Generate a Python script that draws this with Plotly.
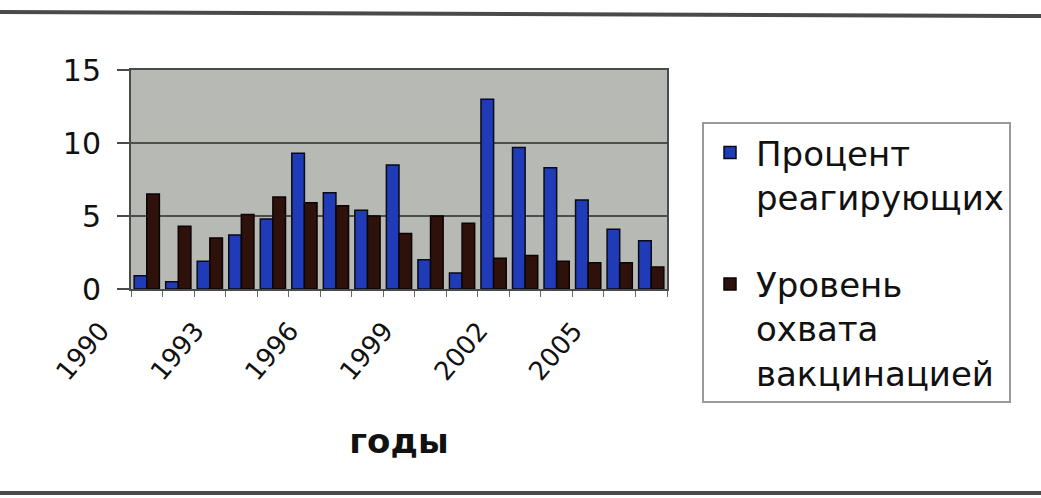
import plotly.graph_objects as go

# ---- data ----
years = list(range(1990, 2007))
percent_reacting = [0.9, 0.5, 1.9, 3.7, 4.8, 9.3, 6.6, 5.4, 8.5, 2.0,
                    1.1, 13.0, 9.7, 8.3, 6.1, 4.1, 3.3]
vaccination_coverage = [6.5, 4.3, 3.5, 5.1, 6.3, 5.9, 5.7, 5.0, 3.8, 5.0,
                        4.5, 2.1, 2.3, 1.9, 1.8, 1.8, 1.5]
tick_years = [1990, 1993, 1996, 1999, 2002, 2005]
tick_labels = [str(y) for y in tick_years]
series_names = ["Процент<br>реагирующих", "Уровень<br>охвата<br>вакцинацией"]
x_title = "годы"

W, H = 1041, 498
ML, MR, MT, MB = 131, 374, 70, 209
PW, PH = W - ML - MR, H - MT - MB


def px_x(p):
    return (p - ML) / PW


def px_y(p):
    return (H - MB - p) / PH


FONT = "DejaVu Sans"

fig = go.Figure()
fig.add_trace(go.Bar(
    x=years, y=percent_reacting, name=series_names[0], legendgroup="a",
    marker=dict(color="#1f3bb8", line=dict(color="#0a0a14", width=1.5)),
))
fig.add_trace(go.Bar(
    x=years, y=vaccination_coverage, name=series_names[1], legendgroup="b",
    marker=dict(color="#2e110a", line=dict(color="#0a0505", width=1.5)),
))

fig.update_layout(
    width=W, height=H,
    margin=dict(l=ML, r=MR, t=MT, b=MB, autoexpand=False),
    paper_bgcolor="white",
    plot_bgcolor="#b7b9b4",
    barmode="group", bargap=0.2, bargroupgap=0,
    font=dict(family=FONT, color="#111111"),
    showlegend=True,
    legend=dict(
        x=px_x(702), y=px_y(122), xanchor="left", yanchor="top",
        bgcolor="white", bordercolor="#9a9a9a", borderwidth=2,
        font=dict(family=FONT, size=34, color="#111111"),
        traceorder="grouped", tracegroupgap=40, valign="top",
        itemwidth=42, maxheight=360,
    ),
    shapes=[
        dict(type="line", xref="paper", yref="paper",
             x0=px_x(0), x1=px_x(W), y0=px_y(12), y1=px_y(16),
             line=dict(color="#4a4a4a", width=4)),
        dict(type="line", xref="paper", yref="paper",
             x0=px_x(0), x1=px_x(W), y0=px_y(493), y1=px_y(493),
             line=dict(color="#4a4a4a", width=4)),
    ],
)

fig.update_xaxes(
    range=[1989.5, 2006.5],
    tickmode="array", tickvals=tick_years, ticktext=tick_labels,
    tickangle=-50, ticks="",
    tickfont=dict(family=FONT, size=26, color="#111111"),
    ticklabelstandoff=14, ticklabelshift=-46,
    showgrid=False, zeroline=False,
    showline=True, mirror=True, linecolor="#4a4a4a", linewidth=2,
    minor=dict(ticks="outside", tick0=1989.5, dtick=1, ticklen=6,
               tickcolor="#666666", tickwidth=1, showgrid=False),
    title=dict(text="<b>" + x_title + "</b>", standoff=44,
               font=dict(family=FONT, size=34, color="#111111")),
)
fig.update_yaxes(
    range=[0, 15], tickmode="linear", tick0=0, dtick=5,
    ticks="outside", ticklen=12, tickcolor="#4a4a4a", tickwidth=1.5,
    tickfont=dict(family=FONT, size=30, color="#111111"),
    ticklabelstandoff=10,
    showgrid=True, gridcolor="#4e4e4e", gridwidth=1.5,
    zeroline=False,
    showline=True, mirror=True, linecolor="#4a4a4a", linewidth=2,
)

fig.write_html("out.html")
